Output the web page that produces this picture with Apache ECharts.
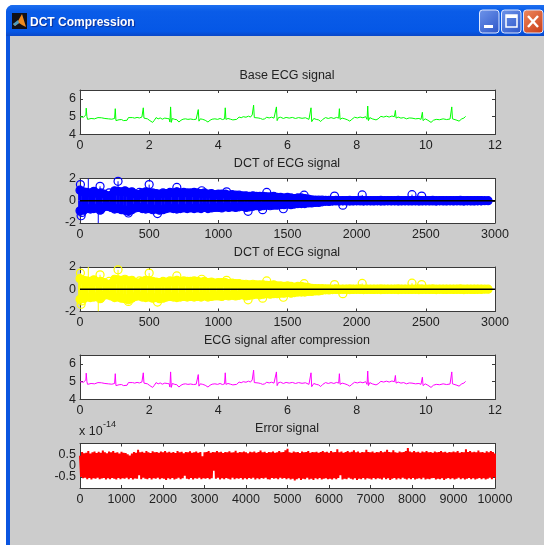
<!DOCTYPE html>
<html><head><meta charset="utf-8">
<style>html,body{margin:0;padding:0;background:#fff}#c{width:544px;height:545px;filter:blur(0.35px)}</style>
<script src="https://cdn.jsdelivr.net/npm/echarts@6/dist/echarts.min.js"></script>
</head><body><div id="c"></div>
<script>
const windowTitle = 'DCT Compression';
const plotTitles = ['Base ECG signal','DCT of ECG signal','DCT of ECG signal','ECG signal after compression','Error signal'];
const timeTicks = [0,2,4,6,8,10,12];
const coefTicks = [0,500,1000,1500,2000,2500,3000];
const sampleTicks = [0,1000,2000,3000,4000,5000,6000,7000,8000,9000,10000];
const ecgYTicks = [4,5,6];
const coefYTicks = [-2,0,2];
const errYTicks = [-0.5,0,0.5];

// ECG signal: [time, value]
const ecgPoints = [[0,5],[.05,5.01],[.1,4.97],[.15,4.95],[.17,5.1],[.18,5.48],[.2,5.0],[.22,4.85],[.27,4.93],[.32,4.9],[.37,4.95],[.42,4.88],[.47,4.9],[.52,4.95],[.57,4.97],[.62,4.94],[.67,4.96],[.72,4.9],[.77,4.93],[.82,4.88],[.87,4.93],[.92,4.86],[.97,4.88],[1.0,4.9],[1.02,5.45],[1.04,4.78],[1.08,4.85],[1.13,4.83],[1.2,4.84],[1.26,4.78],[1.31,4.72],[1.36,4.8],[1.4,4.95],[1.45,4.93],[1.52,4.95],[1.58,4.92],[1.65,4.96],[1.72,4.93],[1.79,4.98],[1.82,5.0],[1.83,5.5],[1.85,4.92],[1.9,4.85],[1.95,4.88],[2.02,4.78],[2.1,4.68],[2.15,4.8],[2.2,4.95],[2.26,4.88],[2.32,4.93],[2.38,4.86],[2.45,4.92],[2.52,4.9],[2.58,4.88],[2.6,4.7],[2.62,5.55],[2.64,4.68],[2.67,4.9],[2.74,4.85],[2.8,4.83],[2.86,4.7],[2.92,4.8],[2.98,4.86],[3.05,4.88],[3.12,4.85],[3.2,4.87],[3.28,4.84],[3.36,4.86],[3.4,4.78],[3.42,5.4],[3.44,4.75],[3.48,4.88],[3.55,4.85],[3.62,4.8],[3.7,4.7],[3.76,4.8],[3.82,4.86],[3.9,4.88],[3.98,4.85],[4.05,4.9],[4.12,4.84],[4.18,4.88],[4.2,5.5],[4.22,4.85],[4.28,4.9],[4.35,4.86],[4.42,4.82],[4.47,4.75],[4.53,4.85],[4.6,4.98],[4.66,4.94],[4.72,5.0],[4.8,4.97],[4.87,5.03],[4.93,4.98],[4.98,5.1],[5.02,5.65],[5.04,4.95],[5.08,4.88],[5.15,4.93],[5.22,4.9],[5.28,4.85],[5.34,4.88],[5.4,4.97],[5.47,4.93],[5.54,4.97],[5.61,4.92],[5.66,4.85],[5.68,5.55],[5.7,4.78],[5.74,4.95],[5.8,4.97],[5.88,4.9],[5.96,4.96],[6.05,4.92],[6.14,4.96],[6.23,4.9],[6.32,4.95],[6.42,4.91],[6.52,4.94],[6.62,4.85],[6.66,4.75],[6.68,5.5],[6.7,4.72],[6.76,4.9],[6.83,4.85],[6.9,4.82],[6.96,4.73],[7.02,4.85],[7.1,4.95],[7.18,4.9],[7.26,4.95],[7.34,4.9],[7.42,4.96],[7.48,4.92],[7.5,5.45],[7.52,4.85],[7.58,4.92],[7.66,4.88],[7.74,4.82],[7.8,4.75],[7.86,4.85],[7.94,4.97],[8.02,4.93],[8.1,4.98],[8.18,4.94],[8.26,5.0],[8.3,4.85],[8.32,5.6],[8.34,4.78],[8.38,4.95],[8.45,4.88],[8.5,4.9],[8.56,4.82],[8.62,4.88],[8.7,5.02],[8.78,4.98],[8.86,5.03],[8.94,4.98],[9.02,5.04],[9.09,5.0],[9.12,5.35],[9.14,4.92],[9.2,4.98],[9.28,4.92],[9.36,4.95],[9.44,4.88],[9.52,4.93],[9.6,4.92],[9.7,4.88],[9.8,4.9],[9.86,4.85],[9.9,5.25],[9.92,4.78],[9.98,4.88],[10.06,4.8],[10.15,4.68],[10.22,4.8],[10.3,4.85],[10.4,4.83],[10.5,4.88],[10.6,4.84],[10.7,4.87],[10.73,4.82],[10.75,5.55],[10.77,4.88],[10.82,4.85],[10.9,4.8],[10.96,4.75],[11.04,4.88],[11.1,4.92],[11.15,5.02]];

// DCT coefficients, one reading every 25 indices
const dctStep = 25;
const dctUpper = [.95,.8,.75,.7,.8,.65,.7,.6,.45,.5,.9,.85,.8,.9,.75,.8,
  .6,.55,.7,.8,.75,.7,.65,.6,.7,.65,.75,.7,.8,.7,.75,.7,
  .7,.75,.7,.65,.7,.6,.65,.55,.6,.6,.6,.5,.55,.5,.5,.45,
  .45,.4,.45,.4,.4,.4,.35,.35,.4,.3,.3,.25,.3,.25,.2,.25,
  .25,.2,.15,.08,.06,.05,.05,.04,
  .03,.02,.03,.02,.01,.02,.03,.01,.02,.03,.02,.01,.02,.01,.02,.03,.01,.02,.02,.01,.03,.02,.01,.02,.02,.01,.03,.02,.01,.02,.03,.01,.02,.02,.01,.02,.01,.02,.03,.01,.02,.02,.01,.02,.01,.01,.01];
const dctLower = [-.9,-.85,-.7,-.75,-.7,-.65,-.8,-.55,-.5,-.6,-.75,-.7,-.8,-.85,-.95,-.8,
  -.65,-.6,-.7,-.75,-.7,-.8,-.75,-.85,-.8,-.7,-.65,-.7,-.75,-.7,-.65,-.7,
  -.65,-.7,-.65,-.7,-.6,-.7,-.65,-.6,-.6,-.65,-.55,-.6,-.55,-.6,-.55,-.5,
  -.6,-.55,-.5,-.45,-.5,-.45,-.4,-.45,-.4,-.4,-.35,-.35,-.3,-.35,-.3,-.25,
  -.25,-.25,-.2,-.2,-.15,-.15,-.1,-.05,
  -.06,-.03,-.02,-.03,-.01,-.02,-.03,-.02,-.01,-.02,-.03,-.01,-.02,-.02,-.01,-.03,-.02,-.01,-.02,-.01,-.03,-.02,-.01,-.02,-.02,-.01,-.03,-.02,-.01,-.02,-.02,-.03,-.01,-.02,-.02,-.01,-.02,-.01,-.02,-.03,-.01,-.02,-.02,-.01,-.01];
// isolated large coefficients: [index, value]
const dctPeaks = [[3,1.45],[8,-1.35],[14,-1.05],[100,.85],[145,1.3],[145,-.85],[210,.7],[275,1.75],[350,-1.1],[430,.75],[500,1.45],[560,-1.15],[700,1.2],[880,.9],[1060,.8],[1215,-.95],[1350,.75],[1320,-.8],[1470,-.72],[1620,.5],[1840,.42],[1900,-.4],[2040,.52],[2400,.55],[2470,.42]];
// stems leaving the box, no marker visible
const dctClipped = [[60,2],[132,-2]];
const stemBaseline = [[0,0],[3000,0]];

// Error signal envelope (x 1e-14), one reading every 50 samples
const errStep = 50;
const errUpper = [.45,.62,.56,.58,.66,.55,.6,.64,.57,.63,.58,.68,.6,.56,.64,.6,.66,.58,.6,.55,
 .63,.58,.57,.52,.46,.55,.62,.58,.72,.6,.63,.58,.66,.6,.57,.65,.6,.62,.58,.64,
 .6,.66,.59,.63,.58,.62,.57,.66,.6,.63,.56,.62,.6,.65,.58,.6,.64,.58,.62,.42,
 .6,.62,.66,.58,.62,.6,.66,.6,.63,.57,.62,.6,.65,.59,.61,.67,.58,.62,.6,.64,
 .6,.56,.63,.6,.64,.58,.62,.68,.6,.63,.57,.62,.6,.64,.58,.6,.66,.6,.62,.7,
 .76,.6,.58,.64,.6,.62,.57,.64,.6,.62,.66,.58,.62,.6,.63,.58,.62,.66,.6,.63,
 .58,.66,.6,.62,.74,.6,.64,.58,.62,.66,.6,.63,.7,.6,.64,.58,.62,.6,.72,.62,
 .6,.64,.58,.62,.6,.66,.6,.63,.72,.62,.6,.7,.6,.58,.64,.6,.62,.66,.8,.64,
 .6,.66,.6,.63,.58,.64,.6,.66,.6,.62,.58,.64,.6,.62,.66,.6,.63,.58,.62,.6,
 .64,.6,.66,.58,.62,.6,.74,.62,.66,.6,.63,.6,.68,.6,.62,.58,.65,.6,.66,.62,.55];
const errLower = [-.5,-.56,-.54,-.6,-.55,-.62,-.56,-.58,-.54,-.6,-.57,-.55,-.62,-.56,-.6,-.55,-.58,-.62,-.55,-.6,
 -.56,-.58,-.54,-.6,-.55,-.62,-.57,-.58,-.42,-.6,-.54,-.58,-.6,-.55,-.62,-.56,-.58,-.54,-.6,-.56,
 -.58,-.64,-.56,-.6,-.55,-.62,-.58,-.54,-.6,-.56,-.45,-.58,-.6,-.55,-.62,-.56,-.58,-.54,-.6,-.56,
 -.58,-.55,-.6,-.56,-.22,-.58,-.54,-.62,-.56,-.6,-.55,-.58,-.62,-.54,-.6,-.56,-.58,-.55,-.62,-.56,
 -.6,-.55,-.58,-.54,-.62,-.56,-.6,-.55,-.58,-.54,-.6,-.62,-.55,-.58,-.56,-.6,-.54,-.58,-.55,-.6,
 -.56,-.62,-.58,-.66,-.6,-.56,-.64,-.58,-.6,-.54,-.62,-.58,-.64,-.56,-.6,-.55,-.62,-.58,-.56,-.6,
 -.58,-.62,-.56,-.6,-.55,-.42,-.62,-.58,-.6,-.54,-.58,-.62,-.56,-.64,-.58,-.6,-.55,-.62,-.56,-.58,
 -.62,-.55,-.6,-.56,-.58,-.62,-.54,-.6,-.56,-.64,-.58,-.55,-.62,-.56,-.6,-.54,-.58,-.62,-.56,-.6,
 -.55,-.62,-.58,-.56,-.6,-.54,-.62,-.58,-.6,-.56,-.55,-.62,-.58,-.6,-.56,-.64,-.58,-.55,-.6,-.56,
 -.62,-.58,-.54,-.6,-.56,-.62,-.58,-.55,-.6,-.56,-.62,-.58,-.55,-.6,-.56,-.62,-.58,-.54,-.6,-.5,-.62];

const GRAY='#cccccc', INK='#222222', AXIS='#3a3a3a';
const FONT='"Liberation Sans", Arial, sans-serif';
const LEFT=80, WIDTH=415, HEIGHT=44.5;
const tops=[90,178.5,267,355,443.5];

function fourAxes(g, xMin,xMax,xStep,xTicks, yMin,yMax,yStep,yTicks){
  const tick={show:true,inside:true,length:3,lineStyle:{color:AXIS,width:1}};
  const line={show:true,onZero:false,lineStyle:{color:AXIS,width:1}};
  const lab=t=>({show:true,showMinLabel:true,showMaxLabel:true,interval:0,formatter:v=>t.includes(v)?String(v):'',color:INK,fontFamily:FONT,fontSize:12.5,hideOverlap:false});
  const xa=(pos,on)=>({type:'value',gridIndex:g,position:pos,min:xMin,max:xMax,interval:xStep,splitLine:{show:false},axisLine:line,
    axisTick:tick,
    axisLabel:on?Object.assign(lab(xTicks),{margin:5}):{show:false}});
  const ya=(pos,on)=>({type:'value',gridIndex:g,position:pos,min:yMin,max:yMax,interval:yStep,splitLine:{show:false},axisLine:line,
    axisTick:tick,
    axisLabel:on?Object.assign(lab(yTicks),{margin:4}):{show:false}});
  return {x:[xa('bottom',true),xa('top',false)],y:[ya('left',true),ya('right',false)]};
}
function stemSeries(axis,data,color,stemWidth,ring,clip,solid){
  return {type:'custom',xAxisIndex:axis,yAxisIndex:axis,data:data,clip:!!clip,silent:true,z:3,
    encode:{x:0,y:1},
    renderItem:(p,api)=>{
      const a=api.coord([api.value(0),0]),b=api.coord([api.value(0),api.value(1)]);
      const kids=[{type:'line',shape:{x1:a[0],y1:a[1],x2:b[0],y2:b[1]},style:{stroke:color,lineWidth:stemWidth}}];
      if(ring) kids.push({type:'circle',shape:{cx:b[0],cy:b[1],r:4},style:{fill:solid?color:null,stroke:color,lineWidth:1.2}});
      return {type:'group',children:kids};
    }};
}
const withIndex=(arr,step)=>arr.map((v,i)=>[i*step,v]);
const dctAll=withIndex(dctUpper,dctStep).concat(withIndex(dctLower,dctStep));
const errPath=[];
errUpper.forEach((u,i)=>{errPath.push([i*errStep,u]); if(i<errLower.length) errPath.push([i*errStep+errStep/2,errLower[i]]);});

const specs=[
 fourAxes(0,0,12,2,timeTicks,4,6.5,1,ecgYTicks),
 fourAxes(1,0,3000,500,coefTicks,-2,2,2,coefYTicks),
 fourAxes(2,0,3000,500,coefTicks,-2,2,2,coefYTicks),
 fourAxes(3,0,12,2,timeTicks,4,6.5,1,ecgYTicks),
 fourAxes(4,0,10000,1000,sampleTicks,-1,1,0.5,errYTicks)];
const xAxes=[],yAxes=[];
specs.forEach(s=>{xAxes.push(s.x[0]);yAxes.push(s.y[0]);});
specs.forEach(s=>{xAxes.push(s.x[1]);yAxes.push(s.y[1]);});

const lineOf=(axis,data,color,w)=>({type:'line',xAxisIndex:axis,yAxisIndex:axis,data:data,showSymbol:false,symbol:'none',silent:true,animation:false,clip:true,z:4,lineStyle:{color:color,width:w,join:'bevel'}});
const dctPlot=(axis,color)=>[
  stemSeries(axis,dctAll,color,3.8,true,false,true),
  stemSeries(axis,dctPeaks,color,1,true),
  stemSeries(axis,dctClipped,color,1,false,true),
  Object.assign(lineOf(axis,stemBaseline,'#000000',1.5),{z:6})
];
const series=[lineOf(0,ecgPoints,'#00ff00',1)]
 .concat(dctPlot(1,'#0000ff'))
 .concat(dctPlot(2,'#ffff00'))
 .concat([lineOf(3,ecgPoints,'#ff00ff',1),lineOf(4,errPath,'#ff0000',2)]);

const button=(x,w,fill)=>({type:'rect',z:101,shape:{x:x,y:10,width:w,height:23,r:3},style:{fill:fill,stroke:'#dfe8ff',lineWidth:1}});
const grad=(a,b)=>({type:'linear',x:0,y:0,x2:1,y2:1,colorStops:[{offset:0,color:a},{offset:1,color:b}]});
const frame=[
 {type:'rect',z:-100,shape:{x:6,y:5,width:538,height:540,r:[7,0,0,0]},style:{fill:'#0a55e0'}},
 {type:'rect',z:-99,shape:{x:6,y:5,width:538,height:31,r:[7,0,0,0]},style:{fill:{type:'linear',x:0,y:0,x2:0,y2:1,colorStops:[{offset:0,color:'#1d6ff0'},{offset:.2,color:'#0a5ce8'},{offset:.85,color:'#0557e6'},{offset:1,color:'#0a48c8'}]}}},
 {type:'rect',z:-98,shape:{x:10,y:36,width:534,height:509},style:{fill:GRAY}},
 {type:'rect',z:101,shape:{x:12,y:13,width:15,height:16},style:{fill:'#101018'}},
 {type:'polygon',z:102,shape:{points:[[13,24],[18,21],[22,14],[26,27],[22,25],[19,23],[15,26]]},style:{fill:'#ee8a20'}},
 {type:'polygon',z:103,shape:{points:[[13,24],[18,20],[19,23],[15,26]]},style:{fill:'#4a9ac0'}},
 {type:'text',z:102,style:{x:30,y:23,text:windowTitle,fill:'#ffffff',font:'bold 12px "Liberation Sans",sans-serif',textVerticalAlign:'middle',textShadowColor:'#0a2a90',textShadowBlur:1,textShadowOffsetX:1,textShadowOffsetY:1}},
 button(479.5,19.5,grad('#6f95ea','#2c55c8')),
 button(501.5,19.5,grad('#6f95ea','#2c55c8')),
 button(523.5,19.5,grad('#ee8a60','#c83a14')),
 {type:'rect',z:102,shape:{x:484,y:25,width:9,height:3},style:{fill:'#ffffff'}},
 {type:'rect',z:102,shape:{x:506,y:15,width:11,height:12},style:{fill:'none',stroke:'#ffffff',lineWidth:1.5}},
 {type:'rect',z:103,shape:{x:506,y:15,width:11,height:3},style:{fill:'#ffffff'}},
 {type:'polyline',z:102,shape:{points:[[528,16],[538,27]]},style:{stroke:'#ffffff',lineWidth:2.4}},
 {type:'polyline',z:102,shape:{points:[[538,16],[528,27]]},style:{stroke:'#ffffff',lineWidth:2.4}},
 {type:'text',z:102,style:{x:79,y:432,text:'x 10',fill:INK,font:'12.5px '+FONT,textVerticalAlign:'middle'}},
 {type:'text',z:102,style:{x:103,y:424.5,text:'-14',fill:INK,font:'9px '+FONT,textVerticalAlign:'middle'}}
];

const chart=echarts.init(document.getElementById('c'),null,{renderer:'canvas'});
chart.setOption({
 animation:false,
 backgroundColor:'#ffffff',
 grid:tops.map(t=>({left:LEFT,top:t,width:WIDTH,height:HEIGHT,show:true,backgroundColor:'#ffffff',borderWidth:0,containLabel:false})),
 title:plotTitles.map((t,i)=>({text:t,left:287,top:tops[i]-21,textAlign:'center',padding:0,textStyle:{color:INK,fontFamily:FONT,fontSize:12.5,fontWeight:'normal'}})),
 xAxis:xAxes,yAxis:yAxes,series:series,
 graphic:{elements:frame}
});
</script></body></html>
